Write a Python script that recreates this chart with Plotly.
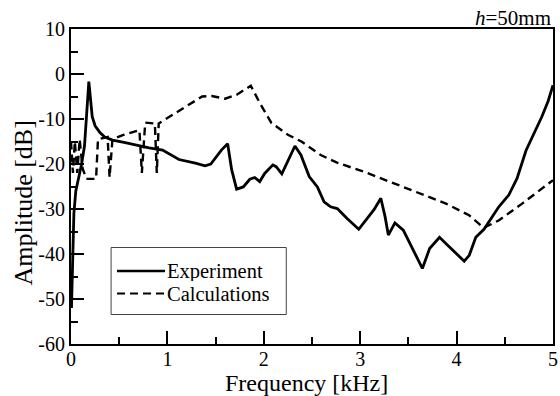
import plotly.graph_objects as go

# Experiment (solid)
exp_x = [0.005, 0.015, 0.03, 0.05, 0.08, 0.11, 0.14, 0.16, 0.185, 0.2, 0.22, 0.25, 0.3, 0.35,
         0.43, 0.55, 0.67, 0.81, 0.95, 1.02, 1.12, 1.29, 1.39, 1.45, 1.5, 1.56, 1.625, 1.667,
         1.718, 1.787, 1.855, 1.906, 1.958, 2.009, 2.094, 2.128, 2.187, 2.231, 2.323, 2.385,
         2.471, 2.556, 2.625, 2.693, 2.762, 2.864, 2.985, 3.087, 3.145, 3.214, 3.258, 3.292,
         3.36, 3.447, 3.549, 3.645, 3.72, 3.823, 3.891, 3.977, 4.079, 4.131, 4.199, 4.284,
         4.371, 4.438, 4.541, 4.627, 4.72, 4.8, 4.884, 4.95, 5.0]
exp_y = [-52, -40, -31, -26, -23, -20, -16, -9, -1.7, -5, -9.5, -11.5, -13, -14,
         -14.7, -15.2, -15.8, -16.4, -16.9, -17.8, -19.0, -19.8, -20.4, -20.0, -18.7, -16.9, -15.5, -21.3,
         -25.6, -25.1, -23.4, -23.0, -23.9, -22.1, -20.2, -20.6, -22.2, -20.2, -16.0, -18.0,
         -22.8, -25.1, -28.4, -29.5, -29.9, -32.1, -34.5, -31.7, -30.1, -27.6, -31.7, -35.8,
         -33.1, -34.7, -39.2, -43.2, -38.8, -36.3, -37.7, -39.5, -41.6, -40.3, -36.3, -34.5,
         -31.7, -29.5, -26.9, -23.2, -17.0, -13.5, -9.5, -6.0, -2.5]

# Calculations (dashed)
calc_x = [0.0, 0.02, 0.04, 0.065, 0.09, 0.12, 0.16, 0.26, 0.28, 0.38, 0.40, 0.43, 0.55, 0.71,
          0.735, 0.77, 0.87, 0.89, 0.91, 1.0, 1.12, 1.22, 1.36, 1.46, 1.6, 1.72, 1.865, 1.96,
          2.08, 2.25, 2.39, 2.59, 2.76, 3.05, 3.5, 3.89, 4.13, 4.28, 4.44, 4.68, 5.0]
calc_y = [-15, -22, -15, -22, -14.5, -21, -23.3, -23.3, -14.5, -14, -23, -14.5, -13.5, -12.5,
          -22, -10.8, -11, -22, -11, -9.8, -8.3, -6.9, -5.0, -4.9, -5.5, -4.6, -2.6, -6.5,
          -10.9, -13.5, -15.0, -18.0, -19.7, -21.8, -25.5, -28.8, -31.4, -34.2, -32.5, -28.8, -23.6]

x_ticks = [0, 1, 2, 3, 4, 5]
x_ticklabels = ["0", "1", "2", "3", "4", "5"]
y_ticks = [10, 0, -10, -20, -30, -40, -50, -60]
y_ticklabels = ["10", "0", "-10", "-20", "-30", "-40", "-50", "-60"]
legend_names = ["Experiment", "Calculations"]

FONT = "Liberation Serif"
W, H = 560, 396
ML, MR, MT, MB = 71, 2, 29, 52
PW, PH = W - ML - MR, H - MT - MB


def px_x(p):
    return (p - ML) / PW


def px_y(p):
    return (H - MB - p) / PH


fig = go.Figure()
fig.add_trace(go.Scatter(x=exp_x, y=exp_y, mode="lines", name=legend_names[0],
                         showlegend=False, line=dict(color="black", width=2.8)))
fig.add_trace(go.Scatter(x=calc_x, y=calc_y, mode="lines", name=legend_names[1],
                         showlegend=False, line=dict(color="black", width=2.4, dash="8px,5px")))

axis_common = dict(showgrid=False, zeroline=False, showline=True, linecolor="black",
                   linewidth=2, mirror=True, ticks="inside", tickcolor="black",
                   tickwidth=2, ticklen=13, ticklabeloverflow="allow",
                   tickfont=dict(family=FONT, size=20, color="black"))

fig.update_xaxes(range=[0, 5], tickmode="array", tickvals=x_ticks, ticktext=x_ticklabels,
                 ticklabelstandoff=-4,
                 minor=dict(ticks="inside", dtick=0.5, ticklen=7, tickwidth=2, tickcolor="black"),
                 **axis_common)
fig.update_yaxes(range=[-60, 10], tickmode="array", tickvals=y_ticks, ticktext=y_ticklabels,
                 minor=dict(ticks="inside", dtick=5, ticklen=7, tickwidth=2, tickcolor="black"),
                 **axis_common)

ROW1, ROW2 = 270.5, 293.5

# hand-made legend box matching the reference's long line samples
shapes = [
    dict(type="rect", xref="paper", yref="paper", x0=px_x(111.5), x1=px_x(288.5),
         y0=px_y(314.5), y1=px_y(247.5), line=dict(color="#444", width=1), fillcolor="white",
         layer="above"),
    dict(type="line", xref="paper", yref="paper", x0=px_x(117.5), x1=px_x(166),
         y0=px_y(ROW1 + 0.5), y1=px_y(ROW1 + 0.5), line=dict(color="black", width=2.5),
         layer="above"),
    dict(type="line", xref="paper", yref="paper", x0=px_x(117.5), x1=px_x(166),
         y0=px_y(ROW2), y1=px_y(ROW2), line=dict(color="black", width=2, dash="8px,5px"),
         layer="above"),
]

annotations = [
    dict(text="<i>h</i>=50mm", xref="paper", yref="paper", x=px_x(558), y=px_y(18),
         xanchor="right", yanchor="middle", showarrow=False,
         font=dict(family=FONT, size=21, color="black")),
    dict(text="Frequency [kHz]", xref="paper", yref="paper", x=px_x(308.5), y=px_y(383),
         xanchor="center", yanchor="middle", showarrow=False,
         font=dict(family=FONT, size=24, color="black")),
    dict(text="Amplitude [dB]", xref="paper", yref="paper", x=px_x(22), y=px_y(203),
         xanchor="center", yanchor="middle", showarrow=False, textangle=-90,
         font=dict(family=FONT, size=26, color="black")),
    dict(text=legend_names[0], xref="paper", yref="paper", x=px_x(166.5), y=px_y(ROW1),
         xanchor="left", yanchor="middle", showarrow=False, height=20, valign="middle",
         borderpad=0, font=dict(family=FONT, size=20.5, color="black")),
    dict(text=legend_names[1], xref="paper", yref="paper", x=px_x(166.5), y=px_y(ROW2),
         xanchor="left", yanchor="middle", showarrow=False, height=20, valign="middle",
         borderpad=0, font=dict(family=FONT, size=20.5, color="black")),
]

fig.update_layout(
    width=W, height=H,
    margin=dict(l=ML, r=MR, t=MT, b=MB),
    paper_bgcolor="white", plot_bgcolor="white",
    font=dict(family=FONT, color="black"),
    showlegend=False,
    shapes=shapes,
    annotations=annotations,
)

fig.write_html("out.html")
